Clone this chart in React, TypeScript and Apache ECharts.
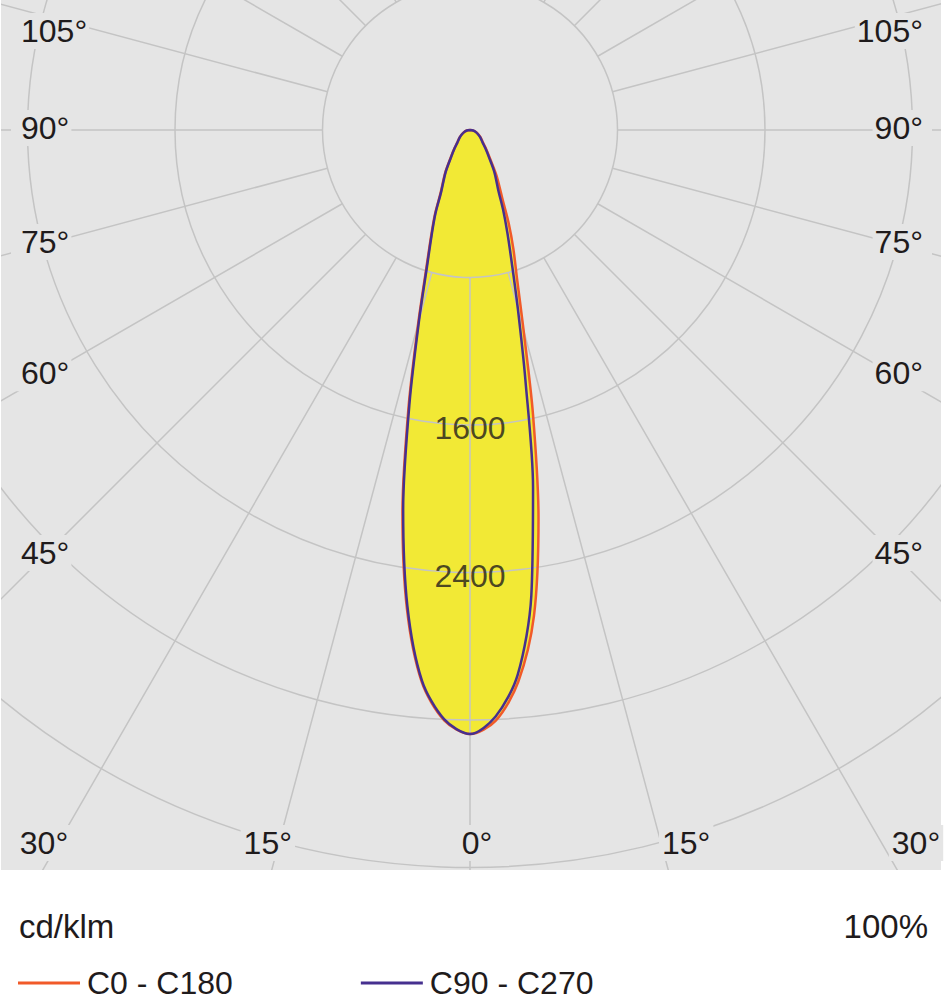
import React, { useEffect, useRef } from "react";
import * as echarts from "echarts";

// Photometric angles (gamma, degrees from nadir)
const GAMMA = [0, 2.5, 5, 7.5, 10, 12.5, 15, 17.5, 20, 22.5, 25, 30, 35, 40, 45, 50, 55, 60, 70, 80, 90];
// Luminous intensity, cd/klm
const C0 = [3276, 3206, 3004, 2658, 2140, 1578, 1122, 850, 689, 549, 420, 290, 190, 138, 102, 84, 70, 57, 36, 18, 0];
const C180 = [3276, 3205, 3005, 2620, 2110, 1540, 1085, 790, 620, 498, 378, 270, 182, 133, 99, 81, 67, 55, 35, 17, 0];
const C90 = [3276, 3184, 2966, 2548, 1969, 1388, 1002, 752, 592, 470, 365, 265, 178, 130, 97, 80, 66, 54, 34, 17, 0];
const C270 = [3276, 3200, 2996, 2603, 2088, 1515, 1066, 775, 610, 490, 370, 265, 178, 130, 97, 80, 66, 54, 34, 17, 0];

const RING_STEP = 800;
const RING_MIN = 800;
const RING_MAX = 4800;
const RING_LABELS = [1600, 2400];
const SIDE_ANGLES = [105, 90, 75, 60, 45];
const BOTTOM_ANGLES = [-30, -15, 0, 15, 30];
const UNIT_TEXT = "cd/klm";
const PERCENT_TEXT = "100%";
const LEGEND_NAMES = ["C0 - C180", "C90 - C270"];

const FONT = '"Liberation Sans", Arial, Helvetica, sans-serif';
const BG = "#e5e5e5";
const GRID = "#c4c4c4";
const YELLOW = "#f2e935";
const RED = "#f15a29";
const PURPLE = "#46308f";
const TEXT = "#1f1b1c";

const CX = 470;
const CY = 130;
const R_INNER = 147.5;
const R_OUTER = 885;
const PLOT_RIGHT = 941;
const PLOT_BOTTOM = 870;

function plane(right: number[], left: number[]) {
  const pts: number[][] = [];
  for (let i = GAMMA.length - 1; i >= 0; i--) pts.push([left[i], 360 - GAMMA[i]]);
  for (let i = 1; i < GAMMA.length; i++) pts.push([right[i], GAMMA[i]]);
  return pts;
}

function sideY(deg: number) {
  const t = (deg * Math.PI) / 180;
  return Math.max(31, CY + 425 / Math.tan(t) - 2);
}

function bottomX(deg: number) {
  const t = (deg * Math.PI) / 180;
  const x = CX + (PLOT_BOTTOM - CY) * Math.tan(t) * 1.055 + 7;
  return Math.min(916, Math.max(44, x));
}

function labelStyle(text: string, align: string, padding: number[], size = 32) {
  return {
    text,
    fontSize: size,
    fontFamily: FONT,
    fill: TEXT,
    align,
    verticalAlign: "middle",
    backgroundColor: BG,
    padding,
  };
}

function buildOption() {
  const hidden = { show: false };
  const angleLabels: any[] = [];
  SIDE_ANGLES.forEach((deg) => {
    const y = sideY(deg);
    angleLabels.push({ type: "text", x: 11, y, z: 6, style: labelStyle(`${deg}°`, "left", [2, 2, 2, 10]) });
    angleLabels.push({ type: "text", x: 932, y, z: 6, style: labelStyle(`${deg}°`, "right", [2, 9, 2, 2]) });
  });
  BOTTOM_ANGLES.forEach((deg) => {
    angleLabels.push({
      type: "text",
      x: bottomX(deg),
      y: 843,
      z: 6,
      style: labelStyle(`${Math.abs(deg)}°`, "center", [2, 3, 2, 3]),
    });
  });

  const outline = (name: string, data: number[][], color: string) => ({
    name,
    type: "line",
    coordinateSystem: "polar",
    polarIndex: 1,
    data,
    symbol: "none",
    smooth: 0.3,
    z: 3,
    color,
    itemStyle: { color },
    lineStyle: { color, width: 2.5 },
  });
  const fill = (name: string, data: number[][]) => ({
    name,
    type: "line",
    coordinateSystem: "polar",
    polarIndex: 1,
    data,
    symbol: "none",
    smooth: 0.3,
    silent: true,
    z: 1,
    lineStyle: { width: 0, opacity: 0 },
    areaStyle: { color: YELLOW, opacity: 1 },
  });

  return {
    animation: false,
    backgroundColor: "#ffffff",
    textStyle: { fontFamily: FONT },
    polar: [
      { center: [CX, CY], radius: [R_INNER, R_OUTER] },
      { center: [CX, CY], radius: [0, R_OUTER] },
    ],
    angleAxis: [
      {
        polarIndex: 0,
        type: "value",
        min: 0,
        max: 360,
        interval: 15,
        startAngle: 270,
        clockwise: false,
        z: 2,
        axisLine: hidden,
        axisTick: hidden,
        axisLabel: hidden,
        splitLine: { show: true, lineStyle: { color: GRID, width: 1.5 } },
      },
      {
        polarIndex: 1,
        type: "value",
        min: 0,
        max: 360,
        startAngle: 270,
        clockwise: false,
        axisLine: hidden,
        axisTick: hidden,
        axisLabel: hidden,
        splitLine: hidden,
      },
    ],
    radiusAxis: [
      {
        polarIndex: 0,
        type: "value",
        min: RING_MIN,
        max: RING_MAX,
        interval: RING_STEP,
        z: 2,
        axisLine: hidden,
        axisTick: hidden,
        axisLabel: hidden,
        splitLine: { show: true, lineStyle: { color: GRID, width: 1.5 } },
      },
      {
        polarIndex: 1,
        type: "value",
        min: 0,
        max: RING_MAX,
        axisLine: hidden,
        axisTick: hidden,
        axisLabel: hidden,
        splitLine: hidden,
      },
    ],
    legend: {
      data: LEGEND_NAMES,
      left: 18,
      top: 967,
      padding: 0,
      icon: "rect",
      itemWidth: 62,
      itemHeight: 3,
      itemGap: 128,
      z: 7,
      selectedMode: false,
      textStyle: { fontSize: 32, lineHeight: 28, color: TEXT, fontFamily: FONT, padding: [0, 0, 0, 2] },
    },
    series: [
      fill("fill-c0", plane(C0, C180)),
      fill("fill-c90", plane(C90, C270)),
      outline(LEGEND_NAMES[0], plane(C0, C180), RED),
      outline(LEGEND_NAMES[1], plane(C90, C270), PURPLE),
      {
        name: "ring-labels",
        type: "scatter",
        coordinateSystem: "polar",
        polarIndex: 1,
        data: RING_LABELS.map((v) => [v, 0]),
        symbolSize: 1,
        silent: true,
        z: 4,
        itemStyle: { color: "rgba(0,0,0,0)" },
        label: {
          show: true,
          position: "inside",
          offset: [0, 3],
          formatter: (p: any) => String(p.value[0]),
          fontSize: 32,
          fontFamily: FONT,
          color: TEXT,
        },
      },
    ],
    graphic: {
      elements: [
        { type: "rect", z: 0, silent: true, shape: { x: 1, y: 0, width: PLOT_RIGHT - 1, height: PLOT_BOTTOM }, style: { fill: BG } },
        { type: "rect", z: 5, silent: true, shape: { x: 0, y: PLOT_BOTTOM, width: 944, height: 1000 - PLOT_BOTTOM }, style: { fill: "#ffffff" } },
        { type: "rect", z: 5, silent: true, shape: { x: PLOT_RIGHT, y: 0, width: 944 - PLOT_RIGHT, height: PLOT_BOTTOM }, style: { fill: "#ffffff" } },
        { type: "rect", z: 5, silent: true, shape: { x: 0, y: 0, width: 1, height: PLOT_BOTTOM }, style: { fill: "#ffffff" } },
        ...angleLabels,
        {
          type: "text",
          x: 19,
          y: 926,
          z: 6,
          style: { text: UNIT_TEXT, fontSize: 33, fontFamily: FONT, fill: TEXT, align: "left", verticalAlign: "middle" },
        },
        {
          type: "text",
          x: 928,
          y: 926,
          z: 6,
          style: { text: PERCENT_TEXT, fontSize: 33, fontFamily: FONT, fill: TEXT, align: "right", verticalAlign: "middle" },
        },
      ],
    },
  };
}

export default function App() {
  const ref = useRef<HTMLDivElement>(null);
  useEffect(() => {
    if (!ref.current) return;
    const chart = echarts.init(ref.current, null, { renderer: "svg" });
    chart.setOption(buildOption() as any);
    return () => chart.dispose();
  }, []);
  return <div ref={ref} style={{ position: "fixed", left: 0, top: 0, width: 944, height: 1000 }} />;
}
